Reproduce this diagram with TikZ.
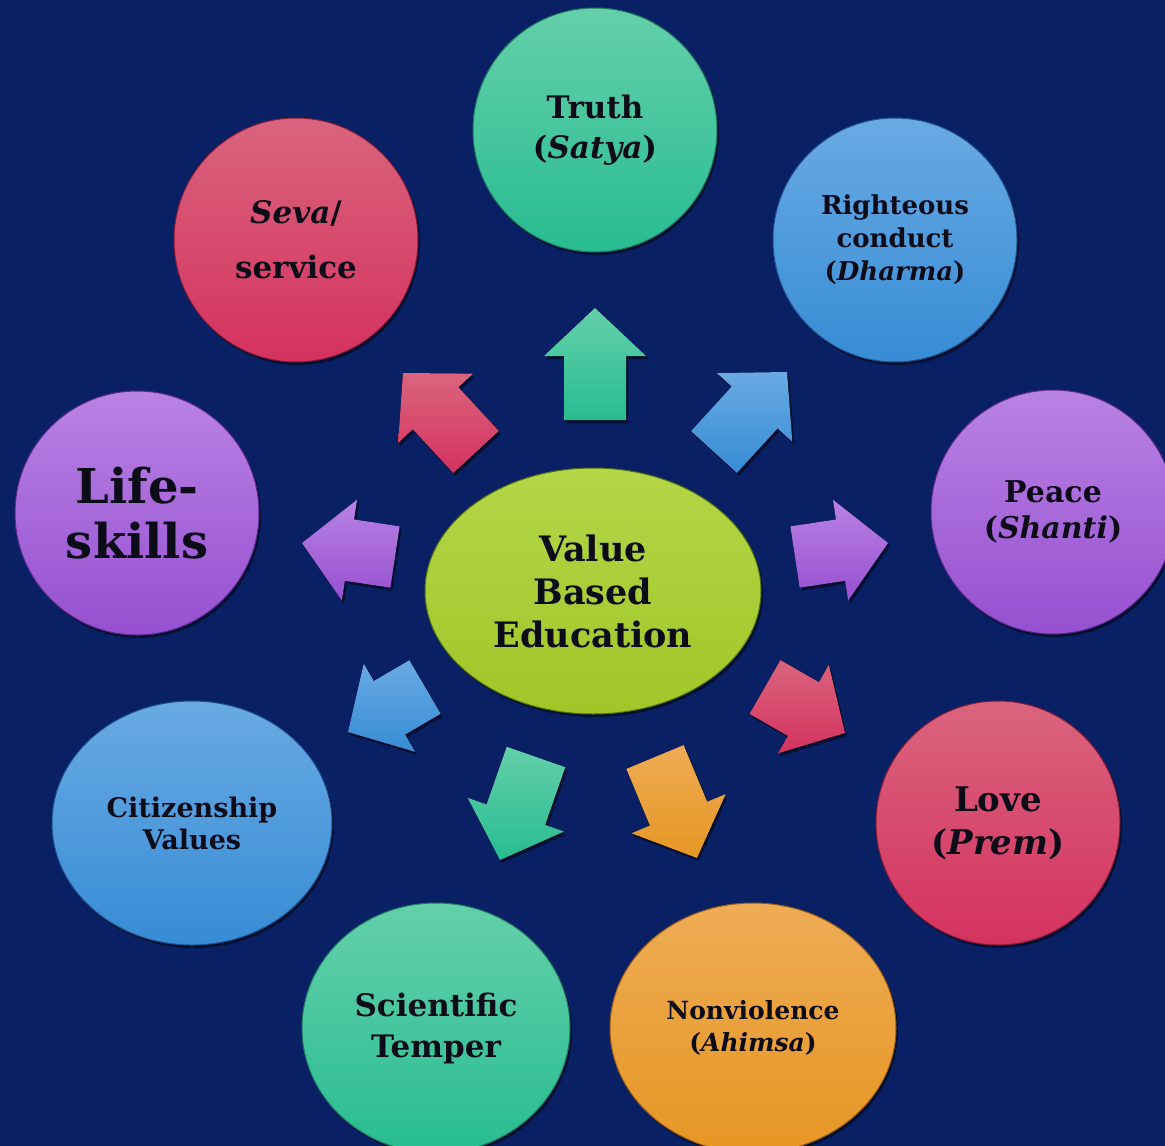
\documentclass[tikz,border=0pt]{standalone}
\usepackage{fontspec}
\setmainfont{DejaVu Serif}
\usetikzlibrary{calc,shapes.geometric,shadows}
\definecolor{bg}{RGB}{10,32,100}
\definecolor{ink}{RGB}{12,12,25}
\definecolor{grnT}{RGB}{100,208,170}\definecolor{grnB}{RGB}{40,188,145}\definecolor{grnD}{RGB}{30,120,95}
\definecolor{redT}{RGB}{218,100,125}\definecolor{redB}{RGB}{212,50,95}\definecolor{redD}{RGB}{130,25,55}
\definecolor{bluT}{RGB}{105,170,228}\definecolor{bluB}{RGB}{55,140,212}\definecolor{bluD}{RGB}{30,80,140}
\definecolor{purT}{RGB}{185,130,228}\definecolor{purB}{RGB}{150,80,208}\definecolor{purD}{RGB}{90,40,140}
\definecolor{orgT}{RGB}{238,172,85}\definecolor{orgB}{RGB}{230,150,35}\definecolor{orgD}{RGB}{150,90,20}
\definecolor{limT}{RGB}{180,214,72}\definecolor{limB}{RGB}{160,198,40}\definecolor{limD}{RGB}{80,110,15}
\newcommand\fsz[2]{\fontsize{#1}{#2}\selectfont}
\tikzset{
  softshadow/.style={drop shadow={shadow xshift=2pt, shadow yshift=-3pt, opacity=0.5, fill=black}},
  bubble/.style={circle, minimum size=244pt, inner sep=0pt, align=center, text=ink,
    top color=#1T, bottom color=#1B, draw=#1D, line width=1pt, softshadow},
  oval/.style={ellipse, inner sep=0pt, align=center, text=ink,
    top color=#1T, bottom color=#1B, draw=#1D, line width=1pt, softshadow},
  arrowfill/.style={top color=#1T, bottom color=#1B, softshadow},
}
\newcommand\blockarrow[3]{%
  \coordinate (ba-b) at ($(#2)!48pt!(#1)$);
  \fill[arrowfill=#3]
    ($(#1)!31pt!90:(#2)$) -- ($(ba-b)!31pt!-90:(#1)$) -- ($(ba-b)!51pt!-90:(#1)$) -- (#2)
    -- ($(ba-b)!51pt!90:(#1)$) -- ($(ba-b)!31pt!90:(#1)$) -- ($(#1)!31pt!-90:(#2)$) -- cycle;
}
\begin{document}
\begin{tikzpicture}[x=1pt,y=-1pt]
\useasboundingbox (0,0) rectangle (1165,1146);
\fill[bg] (0,0) rectangle (1165,1146);

% outer bubbles
\node[bubble=grn, font=\bfseries\fsz{31}{40}] (truth) at (595,130) {Truth\\(\textit{Satya})};
\node[bubble=red, font=\bfseries\fsz{31}{55}] (seva) at (296,240) {\textit{Seva}/\\service};
\node[bubble=blu, font=\bfseries\fsz{26}{33}] (righteous) at (895,240) {Righteous\\conduct\\(\textit{Dharma})};
\node[bubble=pur, font=\bfseries\fsz{48}{55}] (life) at (137,513) {Life-\\skills};
\node[bubble=pur, font=\bfseries\fsz{30}{36}] (peace) at (1053,512) {Peace\\(\textit{Shanti})};
\node[oval=blu, minimum width=280pt, minimum height=244pt, font=\bfseries\fsz{27}{32}] (citizen) at (192,823) {Citizenship\\Values};
\node[bubble=red, font=\bfseries\fsz{34}{43}] (love) at (998,823) {Love\\(\textit{Prem})};
\node[oval=grn, minimum width=268pt, minimum height=250pt, font=\bfseries\fsz{31}{41}] (sci) at (436,1028) {Scientific\\Temper};
\node[oval=org, minimum width=286pt, minimum height=250pt, font=\bfseries\fsz{25}{32}] (nonv) at (753,1028) {Nonviolence\\(\textit{Ahimsa})};

% centre
\node[oval=lim, minimum width=336pt, minimum height=246pt, font=\bfseries\fsz{35}{43}] (centre) at (593,591) {Value\\Based\\Education};

% arrow end points
\coordinate (nT) at (595,420);  \coordinate (nP) at (595,308);
\coordinate (nwT) at (476,452); \coordinate (nwP) at (403,373);
\coordinate (neT) at (714,452); \coordinate (neP) at (787,372);
\coordinate (wT) at (395,557);  \coordinate (wP) at (302,543);
\coordinate (eT) at (795,557);  \coordinate (eP) at (888,543);
\coordinate (swT) at (425,687); \coordinate (swP) at (348,732);
\coordinate (seT) at (765,687); \coordinate (seP) at (845,733);
\coordinate (sgT) at (536,757); \coordinate (sgP) at (500,860);
\coordinate (soT) at (655,757); \coordinate (soP) at (697,858);

\blockarrow{nT}{nP}{grn}
\blockarrow{nwT}{nwP}{red}
\blockarrow{neT}{neP}{blu}
\blockarrow{wT}{wP}{pur}
\blockarrow{eT}{eP}{pur}
\blockarrow{swT}{swP}{blu}
\blockarrow{seT}{seP}{red}
\blockarrow{sgT}{sgP}{grn}
\blockarrow{soT}{soP}{org}
\end{tikzpicture}
\end{document}
